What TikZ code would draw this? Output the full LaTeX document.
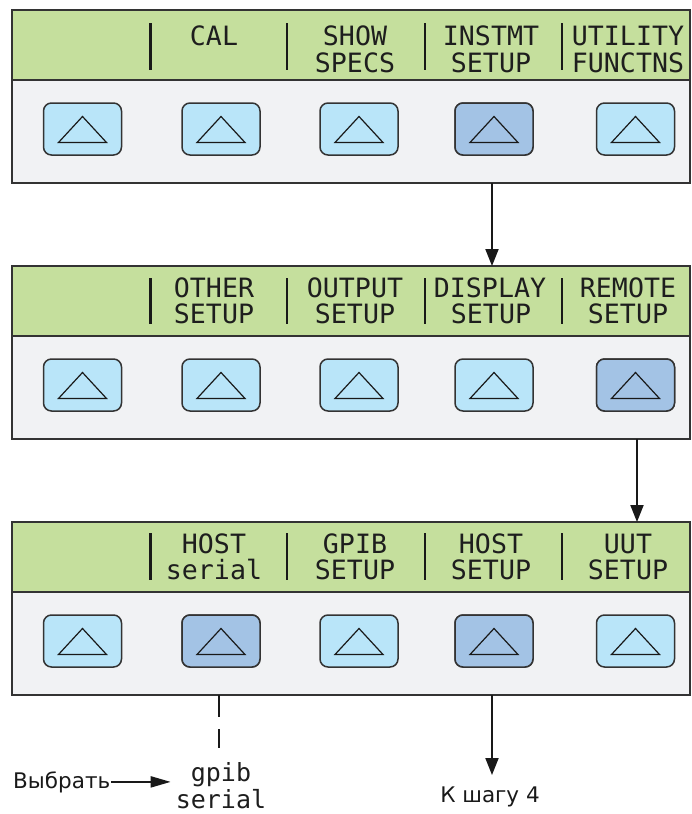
\documentclass[tikz,border=0pt]{standalone}
\usepackage{fontspec}
\setmainfont{DejaVu Sans}
\newfontfamily\lcdfont{DejaVu Sans Mono}
\usetikzlibrary{arrows.meta}
\definecolor{lcdgreen}{HTML}{C5DF9D}
\definecolor{keylight}{HTML}{B9E5F9}
\definecolor{keydark}{HTML}{A3C3E5}
\definecolor{panelbg}{HTML}{F1F2F4}
\definecolor{edgecol}{HTML}{333333}
\definecolor{lcdink}{HTML}{1E1E1E}
\begin{document}
\begin{tikzpicture}[x=1pt,y=-1pt,
  panelbox/.style={fill=panelbg,draw=edgecol,line width=2pt,minimum width=678pt,minimum height=173pt,inner sep=0pt,outer sep=0pt},
  lcdband/.style={fill=lcdgreen,draw=edgecol,line width=2pt,minimum width=678pt,minimum height=70pt,inner sep=0pt,outer sep=0pt},
  keybox/.style={fill=keylight,draw=edgecol,line width=1.5pt,rounded corners=8pt,minimum width=78pt,minimum height=52pt,inner sep=0pt},
  keysel/.style={keybox,fill=keydark},
  tri/.style={draw=black!90,line width=1.2pt,line join=miter},
  sepline/.style={draw=black!90,line width=2.2pt},
  lcdtext/.style={font=\lcdfont\fontsize{26.6}{28}\selectfont,text=lcdink,inner sep=0pt,anchor=base},
  smalllcd/.style={lcdtext,font=\lcdfont\fontsize{25}{26}\selectfont},
  plaintext/.style={font=\fontsize{21.5}{24}\selectfont,text=black!90,inner sep=0pt,anchor=base},
  flow/.style={draw=black!90,line width=2pt,-{Triangle[length=17pt,width=13pt]}},
  pick/.style={draw=black!90,line width=2pt,-{Triangle[length=20pt,width=11pt]}},
  dashedlink/.style={draw=black!90,line width=1.2pt,dash pattern=on 22pt off 12pt}
]
\useasboundingbox (0,0) rectangle (691,814);

% panels
\foreach \p/\t in {1/10,2/266,3/522}{
  \node[panelbox,anchor=north west] (p\p) at (12,\t) {};
  \node[lcdband,anchor=north west] (lcd\p) at (12,\t) {};
}

% keys
\foreach \p/\t in {1/10,2/266,3/522}{
  \foreach \k/\x in {a/82.5,b/221,c/359,d/494,e/635.5}{
    \node[keybox] (k\p\k) at (\x,\t+119) {};
  }
}
% selected keys (redrawn darker)
\node[keysel] (s1d) at (k1d) {};
\node[keysel] (s2e) at (k2e) {};
\node[keysel] (s3b) at (k3b) {};
\node[keysel] (s3d) at (k3d) {};

% triangles
\foreach \p in {1,2,3}{
  \foreach \k in {a,b,c,d,e}{
    \draw[tri] ([shift={(-24,13.5)}]k\p\k.center) -- ([shift={(0,-12.5)}]k\p\k.center) -- ([shift={(24,13.5)}]k\p\k.center) -- cycle;
  }
}

% separators
\foreach \x in {150.5,287,425,562}{
  \draw[sepline] (\x,23) -- (\x,70);
  \draw[sepline] (\x,278) -- (\x,324);
  \draw[sepline] (\x,533) -- (\x,580);
}

% labels panel 1
\node[lcdtext] (l1b1) at (214,45) {CAL};
\node[lcdtext] (l1c1) at (355,45) {SHOW};
\node[lcdtext] (l1c2) at (355,72.5) {SPECS};
\node[lcdtext] (l1d1) at (491,45) {INSTMT};
\node[lcdtext] (l1d2) at (491,72.5) {SETUP};
\node[lcdtext] (l1e1) at (628,45) {UTILITY};
\node[lcdtext] (l1e2) at (628,72.5) {FUNCTNS};

% labels panel 2
\node[lcdtext] (l2b1) at (214,297.5) {OTHER};
\node[lcdtext] (l2b2) at (214,323) {SETUP};
\node[lcdtext] (l2c1) at (355,297.5) {OUTPUT};
\node[lcdtext] (l2c2) at (355,323) {SETUP};
\node[lcdtext] (l2d1) at (490,297.5) {DISPLAY};
\node[lcdtext] (l2d2) at (491,323) {SETUP};
\node[lcdtext] (l2e1) at (628,297.5) {REMOTE};
\node[lcdtext] (l2e2) at (628,323) {SETUP};

% labels panel 3
\node[lcdtext] (l3b1) at (214,553) {HOST};
\node[lcdtext] (l3b2) at (214,579) {serial};
\node[lcdtext] (l3c1) at (355,553) {GPIB};
\node[lcdtext] (l3c2) at (355,579) {SETUP};
\node[lcdtext] (l3d1) at (491,553) {HOST};
\node[lcdtext] (l3d2) at (491,579) {SETUP};
\node[lcdtext] (l3e1) at (628,553) {UUT};
\node[lcdtext] (l3e2) at (628,579) {SETUP};

% flow arrows
\draw[flow] (p1.south -| 492,0) -- (p2.north -| 492,0);
\draw[flow] (p2.south -| 637,0) -- (p3.north -| 637,0);

% bottom texts
\node[smalllcd] (gpib) at (221,781) {gpib};
\node[smalllcd] (serial) at (221,808) {serial};
\node[plaintext,anchor=base west,inner xsep=1pt] (vybrat) at (12,788) {Выбрать};
\node[plaintext] (step4) at (490,802) {К шагу 4};
\coordinate (dashend) at (219,748);
\coordinate (step4top) at (492,775);

\draw[dashedlink] (p3.south -| dashend) -- (dashend);
\draw[pick] (vybrat.east) -- ([xshift=-20pt]vybrat.east -| gpib.west);
\draw[flow] (p3.south -| step4top) -- (step4top);
\end{tikzpicture}
\end{document}
